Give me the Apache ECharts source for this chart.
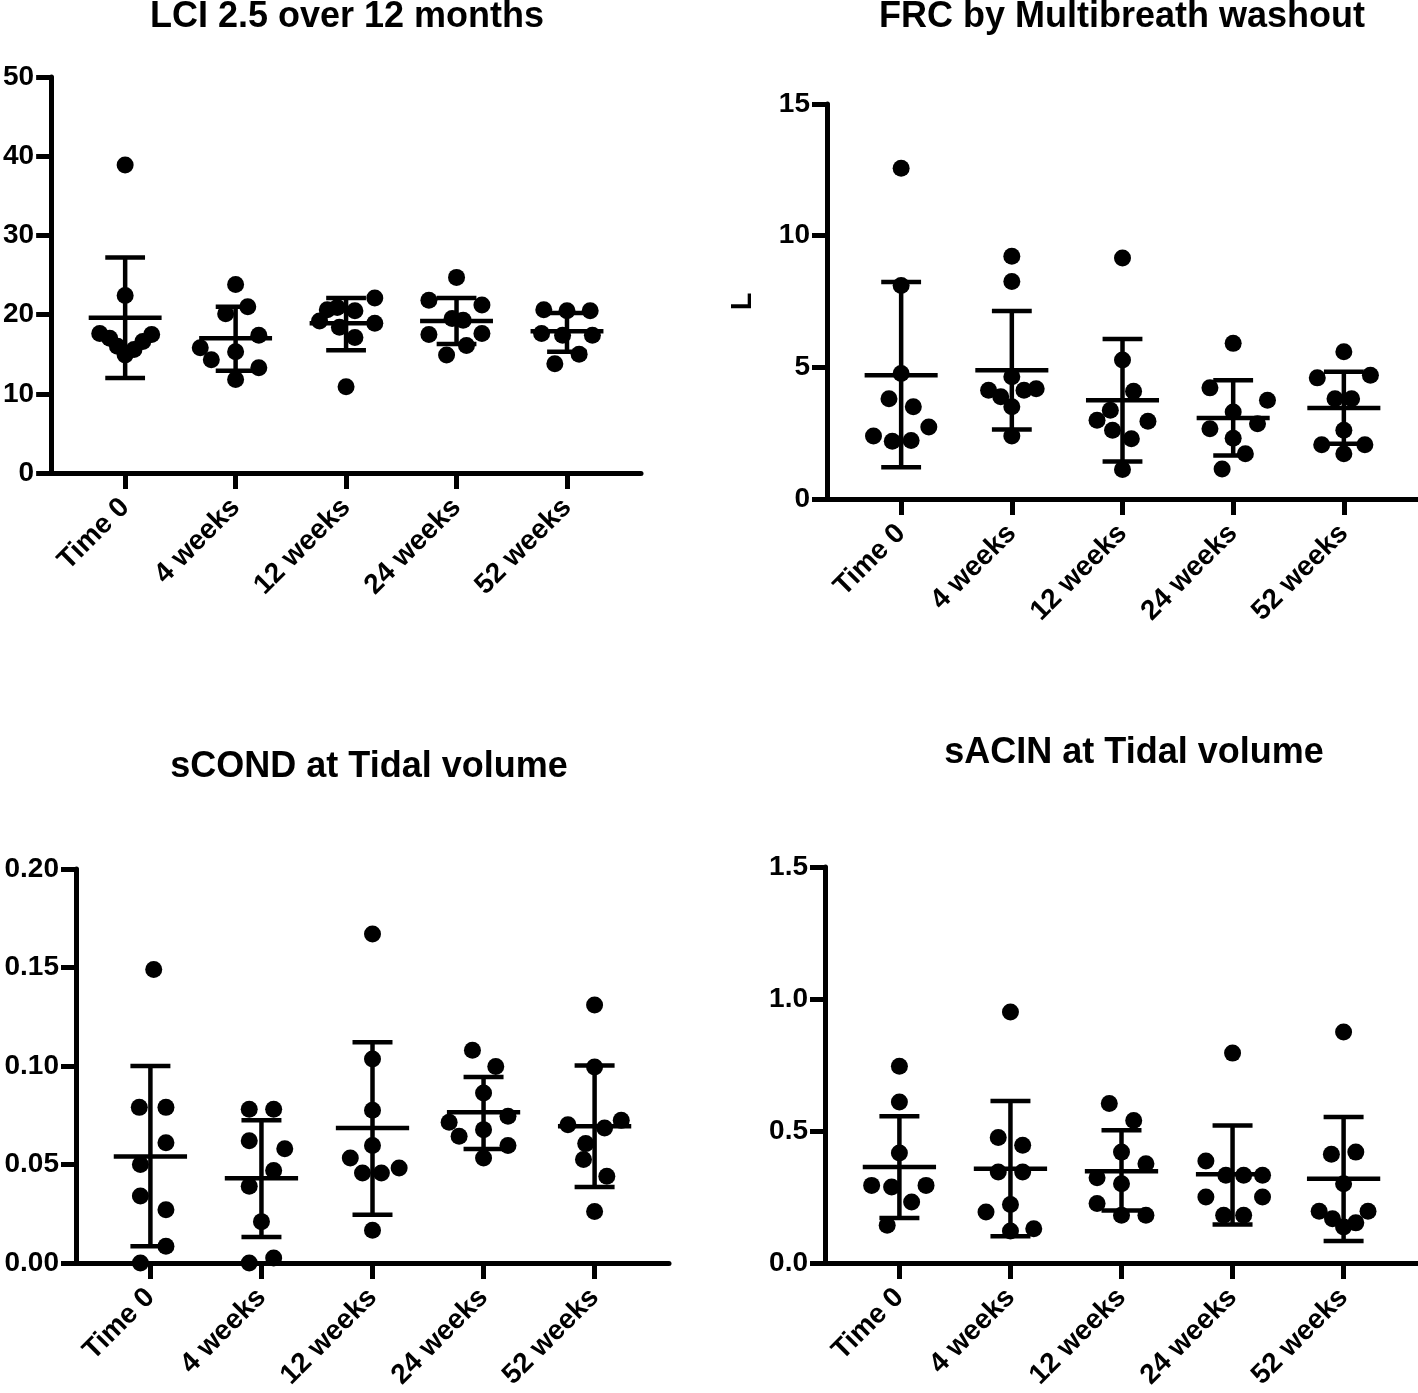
<!DOCTYPE html>
<html>
<head>
<meta charset="utf-8">
<script src="https://cdn.jsdelivr.net/npm/echarts@6/dist/echarts.min.js"></script>
<style>
html,body{margin:0;padding:0;background:#fff;}
#chart{width:1418px;height:1393px;}
</style>
</head>
<body>
<div id="chart"></div>
<script>
// ---------- DATA ----------
const categories = ['Time 0', '4 weeks', '12 weeks', '24 weeks', '52 weeks'];
const titles = ['LCI 2.5 over 12 months', 'FRC by Multibreath washout', 'sCOND at Tidal volume', 'sACIN at Tidal volume'];

// LCI 2.5 (individual values per visit)
const lciT0 = [38.9, 22.4, 17.6, 17.0, 16.0, 14.9, 15.6, 16.6, 17.5];
const lci4  = [23.8, 21.0, 20.1, 17.4, 15.8, 15.3, 14.3, 13.3, 11.8];
const lci12 = [22.1, 20.9, 20.6, 20.5, 19.2, 18.9, 18.4, 17.1, 10.9];
const lci24 = [24.7, 21.8, 21.2, 19.5, 19.3, 17.5, 17.6, 16.1, 14.9];
const lci52 = [20.6, 20.5, 20.5, 17.6, 17.4, 17.4, 15.0, 13.8];
const lciMean = [19.6, 17.0, 18.9, 19.2, 17.9];
const lciSdLow = [12.0, 12.9, 15.5, 16.3, 15.3];
const lciSdHigh = [27.2, 21.0, 22.1, 22.1, 20.2];
// horizontal scatter spread (category units)
const lciJitter = [
  [0, 0, -0.23, -0.14, -0.07, 0, 0.08, 0.16, 0.24],
  [0, 0.11, -0.09, 0.21, -0.32, 0, -0.22, 0.21, 0],
  [0.26, -0.08, -0.17, 0.08, -0.24, 0.26, -0.06, 0.08, 0],
  [0, -0.25, 0.23, -0.04, 0.06, -0.25, 0.23, 0.09, -0.09],
  [-0.21, 0, 0.21, -0.23, -0.04, 0.23, 0.11, -0.11]
];

// FRC (L)
const frcT0 = [12.56, 8.11, 4.77, 3.81, 3.50, 2.73, 2.39, 2.19, 2.22];
const frc4  = [9.22, 8.26, 4.64, 4.13, 3.88, 4.13, 4.19, 3.50, 2.39];
const frc12 = [9.15, 5.28, 4.09, 3.37, 2.99, 2.95, 2.61, 2.29, 1.12];
const frc24 = [5.91, 4.22, 3.75, 3.30, 2.86, 2.67, 2.31, 1.72, 1.14];
const frc52 = [5.59, 4.60, 4.70, 3.81, 3.81, 2.61, 2.06, 2.06, 1.72];
const frcMean = [4.70, 4.89, 3.75, 3.08, 3.46];
const frcSdLow = [1.21, 2.64, 1.42, 1.65, 2.10];
const frcSdHigh = [8.24, 7.14, 6.08, 4.51, 4.83];
const frcJitter = [
  [0, 0, 0, -0.11, 0.11, 0.25, -0.25, -0.08, 0.09],
  [0, 0, 0, -0.21, -0.10, 0.11, 0.22, 0, 0],
  [0, 0, 0.10, -0.11, -0.23, 0.23, -0.09, 0.08, 0],
  [0, -0.21, 0.31, 0, 0.22, -0.21, 0, 0.11, -0.10],
  [0, -0.24, 0.24, -0.08, 0.07, 0, -0.20, 0.19, 0]
];

// sCOND
const scT0 = [0.149, 0.079, 0.079, 0.061, 0.050, 0.034, 0.027, 0.0085, 0.000];
const sc4  = [0.078, 0.078, 0.062, 0.058, 0.047, 0.039, 0.021, 0.000, 0.0025];
const sc12 = [0.167, 0.1036, 0.0775, 0.0596, 0.0533, 0.0482, 0.0457, 0.0457, 0.0166];
const sc24 = [0.108, 0.0998, 0.0863, 0.0745, 0.0714, 0.0677, 0.0643, 0.0596, 0.0533];
const sc52 = [0.131, 0.0995, 0.0724, 0.0702, 0.0685, 0.0606, 0.0525, 0.044, 0.0262];
const scMean = [0.054, 0.043, 0.0685, 0.0765, 0.0694];
const scSdLow = [0.0085, 0.0132, 0.0245, 0.0579, 0.0386];
const scSdHigh = [0.100, 0.0724, 0.112, 0.0944, 0.1002];
const scJitter = [
  [0.03, -0.10, 0.14, 0.14, -0.09, -0.09, 0.14, 0.14, -0.09],
  [-0.11, 0.11, -0.11, 0.21, 0.11, -0.11, 0, -0.11, 0.11],
  [0, 0, 0, 0, -0.20, 0.24, -0.09, 0.08, 0],
  [-0.10, 0.11, 0, 0.22, -0.31, 0, -0.22, 0.22, 0],
  [0, 0, 0.24, -0.24, 0.09, -0.08, -0.10, 0.11, 0]
];

// sACIN
const saT0 = [0.745, 0.610, 0.417, 0.294, 0.288, 0.294, 0.231, 0.143];
const sa4  = [0.951, 0.475, 0.446, 0.345, 0.345, 0.193, 0.222, 0.130, 0.121];
const sa12 = [0.604, 0.540, 0.420, 0.376, 0.323, 0.300, 0.225, 0.181, 0.181];
const sa24 = [0.795, 0.386, 0.332, 0.332, 0.332, 0.250, 0.250, 0.181, 0.181];
const sa52 = [0.875, 0.412, 0.420, 0.300, 0.196, 0.196, 0.168, 0.152, 0.136];
const saMean = [0.364, 0.357, 0.348, 0.336, 0.319];
const saSdLow = [0.170, 0.101, 0.199, 0.146, 0.083];
const saSdHigh = [0.556, 0.614, 0.503, 0.521, 0.553];
const saJitter = [
  [0, 0, 0, -0.25, -0.07, 0.24, 0.11, -0.11],
  [0, -0.11, 0.11, -0.11, 0.11, -0.22, 0, 0.21, 0],
  [-0.11, 0.11, 0, 0.22, -0.22, 0, -0.22, 0, 0.22],
  [0, -0.24, -0.06, 0.10, 0.27, -0.24, 0.27, -0.08, 0.10],
  [0, -0.11, 0.11, 0, -0.22, 0.22, -0.10, 0.11, 0]
];

// ---------- CHART ----------
const FONT = '"Liberation Sans", Arial, Helvetica, sans-serif';
const panels = [
  {groups: [lciT0, lci4, lci12, lci24, lci52], jit: lciJitter, mean: lciMean, lo: lciSdLow, hi: lciSdHigh,
   grid: {left: 48, top: 77, width: 593, height: 396}, y: {min: 0, max: 50, interval: 10, dec: 0}, name: '',
   title: [347, 17]},
  {groups: [frcT0, frc4, frc12, frc24, frc52], jit: frcJitter, mean: frcMean, lo: frcSdLow, hi: frcSdHigh,
   grid: {left: 827, top: 104, width: 593, height: 395}, y: {min: 0, max: 15, interval: 5, dec: 0}, name: 'L',
   title: [1122, 17]},
  {groups: [scT0, sc4, sc12, sc24, sc52], jit: scJitter, mean: scMean, lo: scSdLow, hi: scSdHigh,
   grid: {left: 76, top: 869, width: 593, height: 394}, y: {min: 0, max: 0.2, interval: 0.05, dec: 2}, name: '',
   title: [369, 767]},
  {groups: [saT0, sa4, sa12, sa24, sa52], jit: saJitter, mean: saMean, lo: saSdLow, hi: saSdHigh,
   grid: {left: 825, top: 867, width: 593, height: 396}, y: {min: 0, max: 1.5, interval: 0.5, dec: 1}, name: '',
   title: [1134, 753]}
];

const option = {
  animation: false,
  backgroundColor: '#fff',
  grid: [], xAxis: [], yAxis: [], series: [], graphic: []
};

function renderBars(params, api) {
  const i = api.value(0), m = api.value(1), lo = api.value(2), hi = api.value(3);
  const seg = (x1, y1, x2, y2) => {
    const a = api.coord([x1, y1]), b = api.coord([x2, y2]);
    return {type: 'line', shape: {x1: a[0], y1: a[1], x2: b[0], y2: b[1]},
      style: {stroke: '#000', lineWidth: 4.5}};
  };
  return {type: 'group', children: [
    seg(i - 0.33, m, i + 0.33, m),
    seg(i, lo, i, hi),
    seg(i - 0.18, lo, i + 0.18, lo),
    seg(i - 0.18, hi, i + 0.18, hi)
  ]};
}

panels.forEach((p, k) => {
  option.grid.push(Object.assign({containLabel: false}, p.grid));
  option.xAxis.push({
    gridIndex: k, type: 'value', min: -0.67, max: 4.67,
    axisLine: {show: true, onZero: false, lineStyle: {color: '#000', width: 5}},
    splitLine: {show: false},
    axisTick: {show: true, customValues: [0, 1, 2, 3, 4], length: 16, lineStyle: {color: '#000', width: 5}},
    axisLabel: {show: true, customValues: [0, 1, 2, 3, 4], formatter: v => categories[Math.round(v)],
      rotate: 45, margin: 30, color: '#000', fontFamily: FONT, fontWeight: 'bold', fontSize: 28}
  });
  option.yAxis.push({
    gridIndex: k, type: 'value', min: p.y.min, max: p.y.max, interval: p.y.interval,
    name: p.name, nameLocation: 'middle', nameGap: 70,
    nameTextStyle: {color: '#000', fontFamily: FONT, fontWeight: 'bold', fontSize: 29},
    axisLine: {show: true, onZero: false, lineStyle: {color: '#000', width: 5}},
    splitLine: {show: false},
    axisTick: {show: true, length: 15, lineStyle: {color: '#000', width: 5}},
    axisLabel: {show: true, margin: 17, color: '#000', fontFamily: FONT, fontWeight: 'bold', fontSize: 28,
      formatter: v => Number(v).toFixed(p.y.dec)}
  });
  const pts = [];
  p.groups.forEach((g, i) => g.forEach((v, j) => pts.push([i + p.jit[i][j], v])));
  option.series.push({
    type: 'custom', xAxisIndex: k, yAxisIndex: k, renderItem: renderBars, clip: false,
    encode: {x: 0, y: [1, 2, 3]},
    data: categories.map((c, i) => [i, p.mean[i], p.lo[i], p.hi[i]]), z: 2
  });
  option.series.push({
    type: 'scatter', xAxisIndex: k, yAxisIndex: k, symbol: 'circle', symbolSize: 17,
    itemStyle: {color: '#000', opacity: 1}, data: pts, z: 3, clip: false
  });
  option.graphic.push({
    type: 'text', x: p.title[0], y: p.title[1],
    style: {text: titles[k], textAlign: 'center', textVerticalAlign: 'middle',
      fill: '#000', font: 'bold 36px ' + FONT}
  });
});

const chart = echarts.init(document.getElementById('chart'), null, {renderer: 'canvas'});
chart.setOption(option);
</script>
</body>
</html>
